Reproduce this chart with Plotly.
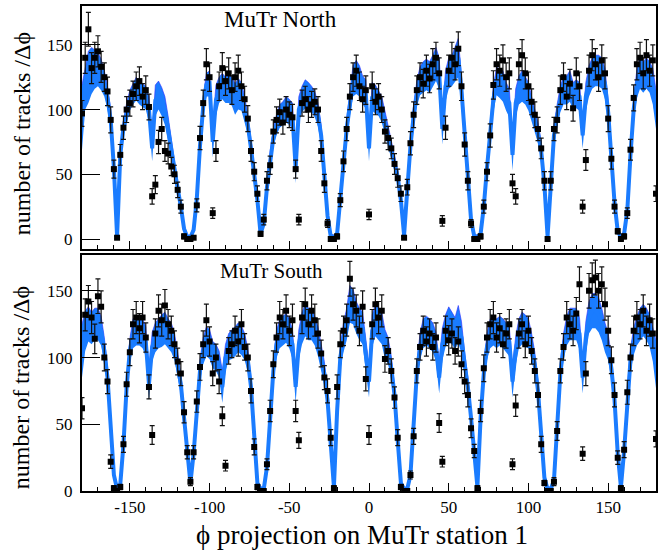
import plotly.graph_objects as go
from plotly.subplots import make_subplots

# --- data (phi bins of 2 degrees) ---
PHI = list(range(-180, 181, 2))

X_TICKS = [-150, -100, -50, 0, 50, 100, 150]
X_TICK_LABELS = ["-150", "-100", "-50", "0", "50", "100", "150"]
Y_TICKS = [0, 50, 100, 150]

# MuTr North: data points
NORTH_Y = [
    97, 140, 162, 132, 140, 145, 133, 125, 114, 92,
    54, 1, 65, 86, 100, 105, 112, 118, 122, 110,
    115, 102, 33, 42, 75, 85, 68, 66, 56, 50,
    38, 25, 2, 0, 0, 1, 26, 78, 105, 135,
    125, 20, 68, 118, 132, 122, 128, 115, 125, 130,
    118, 108, 93, 68, 52, 35, 4, 15, 45, 57,
    83, 92, 98, 90, 100, 96, 94, 54, 15, 105,
    108, 100, 104, 106, 100, 68, 43, 12, 0, 0,
    2, 30, 60, 85, 110, 125, 130, 118, 108, 115,
    19, 118, 106, 110, 100, 83, 78, 70, 58, 47,
    35, 1, 40, 74, 96, 115, 125, 120, 130, 124,
    135, 140, 128, 14, 86, 130, 140, 135, 147, 118,
    73, 45, 12, 0, 0, 2, 25, 52, 80, 119,
    135, 130, 138, 125, 128, 43, 33, 135, 142, 128,
    118, 106, 96, 85, 70, 45, 0, 45, 85, 92,
    115, 125, 110, 120, 101, 128, 118, 25, 61, 130,
    142, 135, 125, 138, 128, 93, 62, 25, 6, 0,
    2, 20, 69, 109, 135, 140, 128, 142, 130, 138,
    35,
]
NORTH_ERR = [
    10, 12, 13, 12, 12, 12, 12, 11, 11, 10,
    7, 1, 8, 9, 10, 10, 10, 11, 11, 10,
    11, 10, 6, 7, 9, 9, 8, 8, 7, 7,
    6, 5, 2, 1, 1, 1, 5, 9, 10, 12,
    11, 4, 8, 11, 12, 11, 12, 11, 11, 12,
    11, 10, 10, 8, 7, 6, 2, 4, 7, 7,
    9, 10, 10, 9, 10, 10, 10, 7, 4, 10,
    10, 10, 10, 10, 10, 8, 7, 3, 1, 1,
    2, 5, 8, 9, 10, 11, 12, 11, 10, 11,
    4, 11, 10, 10, 10, 9, 9, 8, 8, 7,
    6, 1, 6, 9, 10, 11, 11, 11, 12, 11,
    12, 12, 12, 4, 9, 12, 12, 12, 13, 11,
    9, 7, 3, 1, 1, 2, 5, 7, 9, 11,
    12, 12, 12, 11, 12, 7, 6, 12, 12, 12,
    11, 10, 10, 9, 8, 7, 1, 7, 9, 10,
    11, 11, 10, 11, 10, 12, 11, 5, 8, 12,
    12, 12, 11, 12, 12, 10, 8, 5, 2, 1,
    2, 4, 8, 10, 12, 12, 12, 12, 12, 12,
    6,
]
# MuTr North: simulation band (centre and half width)
NORTH_SIM = [
    94, 116, 125, 130, 131, 131, 127, 120, 109, 92,
    55, 2, 65, 86, 97, 107, 112, 116, 113, 111,
    109, 100, 70, 107, 111, 106, 99, 85, 68, 54,
    39, 25, 8, 1.5, 1.5, 7, 31, 72, 102, 119,
    120, 75, 107, 115, 118, 115, 116, 114, 108, 112,
    110, 100, 88, 70, 52, 30, 4, 12, 40, 62,
    78, 88, 95, 97, 100, 98, 95, 55, 100, 108,
    112, 110, 108, 104, 96, 80, 50, 18, 2, 1.5,
    4, 28, 58, 85, 105, 122, 125, 122, 115, 112,
    70, 110, 108, 105, 100, 90, 80, 70, 60, 48,
    30, 3, 38, 72, 95, 112, 122, 125, 127, 125,
    130, 135, 128, 85, 118, 128, 130, 135, 140, 115,
    80, 48, 15, 2, 1.5, 4, 25, 55, 82, 108,
    122, 120, 118, 110, 105, 65, 105, 115, 118, 115,
    110, 100, 92, 82, 68, 42, 2, 40, 80, 95,
    108, 115, 115, 118, 110, 112, 110, 80, 110, 122,
    128, 130, 130, 128, 120, 98, 65, 28, 6, 1.5,
    4, 22, 65, 100, 120, 128, 125, 128, 125, 118,
    100,
]
NORTH_BAND = [
    25, 16, 20, 18, 15, 13, 12, 10, 9, 8,
    5, 2, 5, 6, 8, 8, 8, 9, 9, 9,
    9, 10, 10, 12, 11, 11, 11, 10, 8, 6,
    5, 4, 3, 1.5, 1.5, 3, 5, 7, 8, 9,
    10, 12, 12, 10, 10, 10, 11, 11, 12, 12,
    11, 10, 8, 7, 6, 5, 2, 3, 5, 6,
    7, 8, 9, 9, 10, 10, 10, 12, 10, 10,
    11, 11, 10, 10, 9, 8, 6, 4, 2, 1.5,
    2, 4, 6, 8, 10, 12, 13, 12, 11, 11,
    10, 11, 11, 10, 10, 9, 8, 7, 6, 5,
    4, 2, 4, 7, 9, 10, 11, 12, 12, 12,
    12, 13, 12, 12, 12, 12, 12, 13, 15, 11,
    8, 6, 3, 2, 1.5, 2, 4, 6, 8, 10,
    11, 11, 12, 11, 11, 12, 11, 11, 12, 11,
    11, 10, 9, 8, 7, 5, 2, 5, 8, 9,
    10, 11, 11, 12, 11, 11, 11, 10, 11, 12,
    12, 12, 12, 12, 12, 9, 7, 4, 2, 1.5,
    2, 4, 7, 9, 11, 12, 12, 12, 12, 14,
    15,
]

# MuTr South: data points
SOUTH_Y = [
    62, 132, 142, 130, 114, 146, 138, 100, 82, 22,
    2, 0, 3, 35, 80, 104, 125, 130, 122, 130,
    115, 78, 42, 118, 135, 128, 139, 125, 120, 110,
    97, 88, 59, 29, 7, 29, 67, 93, 110, 128,
    112, 88, 100, 82, 56, 19, 105, 110, 120, 112,
    125, 108, 100, 75, 33, 3, 0, 0, 20, 60,
    95, 115, 130, 125, 135, 120, 128, 60, 38, 130,
    140, 125, 135, 128, 118, 103, 85, 75, 40, 2,
    78, 110, 120, 128, 159, 140, 135, 120, 138, 84,
    42, 125, 140, 130, 135, 99, 105, 90, 70, 40,
    3, 0, 0, 12, 41, 90, 108, 120, 112, 118,
    108, 115, 51, 22, 120, 113, 118, 105, 112, 95,
    82, 72, 47, 30, 2, 60, 92, 115, 125, 130,
    115, 122, 110, 118, 125, 20, 64, 118, 125, 110,
    120, 105, 90, 72, 35, 6, 0, 0, 7, 45,
    90, 108, 130, 125, 120, 133, 155, 28, 88, 150,
    158, 160, 150, 155, 140, 120, 98, 72, 25, 2,
    31, 74, 100, 120, 130, 125, 135, 120, 128, 118,
    39,
]
SOUTH_ERR = [
    8, 12, 12, 12, 11, 13, 12, 10, 9, 5,
    2, 1, 2, 6, 9, 10, 11, 12, 11, 12,
    11, 9, 7, 11, 12, 12, 12, 11, 11, 10,
    10, 9, 8, 5, 3, 5, 8, 10, 10, 12,
    11, 9, 10, 9, 7, 4, 10, 10, 11, 11,
    11, 10, 10, 9, 6, 2, 1, 1, 4, 8,
    10, 11, 12, 11, 12, 11, 12, 8, 6, 12,
    12, 11, 12, 12, 11, 10, 9, 9, 6, 2,
    9, 10, 11, 12, 13, 12, 12, 11, 12, 9,
    7, 11, 12, 12, 12, 10, 10, 9, 8, 6,
    2, 1, 1, 3, 6, 9, 10, 11, 11, 11,
    10, 11, 7, 4, 11, 11, 11, 10, 11, 10,
    9, 9, 7, 5, 2, 8, 10, 11, 11, 12,
    11, 11, 10, 11, 11, 4, 8, 11, 11, 10,
    11, 10, 9, 9, 6, 2, 1, 1, 3, 7,
    9, 10, 12, 11, 11, 12, 13, 5, 9, 13,
    13, 13, 13, 13, 12, 11, 10, 9, 5, 2,
    6, 9, 10, 11, 12, 11, 12, 11, 12, 11,
    6,
]
# MuTr South: simulation band (centre and half width)
SOUTH_SIM = [
    105, 120, 125, 122, 125, 125, 120, 105, 85, 45,
    12, 1.5, 5, 35, 78, 105, 118, 120, 120, 118,
    112, 80, 108, 115, 118, 120, 122, 118, 115, 108,
    95, 80, 55, 28, 6, 28, 62, 90, 105, 112,
    110, 102, 100, 95, 78, 100, 108, 110, 112, 115,
    113, 108, 98, 78, 38, 6, 1.5, 1.5, 18, 58,
    90, 110, 118, 120, 122, 118, 110, 78, 110, 122,
    128, 125, 125, 120, 112, 100, 88, 68, 35, 3,
    60, 100, 115, 125, 140, 138, 130, 125, 122, 100,
    82, 120, 128, 125, 122, 110, 105, 92, 72, 38,
    6, 1.5, 1.5, 12, 45, 88, 108, 118, 120, 118,
    115, 108, 85, 110, 120, 125, 122, 118, 125, 115,
    95, 78, 55, 32, 3, 55, 88, 108, 118, 120,
    118, 120, 118, 115, 112, 82, 105, 118, 122, 120,
    118, 108, 95, 75, 42, 10, 1.5, 1.5, 8, 45,
    88, 108, 120, 125, 125, 125, 118, 85, 115, 130,
    135, 135, 132, 125, 115, 108, 92, 68, 28, 3,
    30, 70, 98, 112, 120, 125, 128, 125, 120, 110,
    95,
]
SOUTH_BAND = [
    20, 15, 13, 12, 12, 12, 11, 10, 8, 5,
    3, 1.5, 2, 4, 7, 9, 11, 11, 11, 11,
    11, 12, 11, 11, 11, 12, 12, 11, 11, 10,
    9, 8, 6, 4, 2, 4, 6, 8, 10, 11,
    11, 10, 10, 10, 12, 10, 10, 11, 11, 11,
    11, 10, 9, 7, 5, 2, 1.5, 1.5, 3, 6,
    8, 10, 11, 11, 11, 11, 11, 12, 11, 12,
    12, 12, 12, 11, 11, 10, 9, 7, 5, 2,
    6, 9, 11, 12, 14, 13, 12, 12, 12, 12,
    12, 12, 12, 12, 12, 11, 10, 9, 7, 5,
    2, 1.5, 1.5, 3, 5, 8, 10, 11, 11, 11,
    11, 11, 12, 12, 12, 13, 12, 12, 14, 12,
    9, 7, 6, 4, 2, 6, 8, 10, 11, 11,
    11, 11, 11, 11, 11, 12, 11, 11, 12, 12,
    11, 10, 9, 7, 5, 3, 1.5, 1.5, 2, 5,
    8, 10, 11, 12, 12, 12, 12, 12, 12, 12,
    13, 13, 13, 12, 11, 10, 9, 7, 4, 2,
    4, 7, 9, 10, 11, 12, 12, 12, 12, 13,
    18,
]

for arr in (NORTH_Y, NORTH_ERR, NORTH_SIM, NORTH_BAND,
            SOUTH_Y, SOUTH_ERR, SOUTH_SIM, SOUTH_BAND):
    assert len(arr) == len(PHI), len(arr)

# --- style ---
FONT = "Liberation Serif, Times New Roman, serif"
LIGHT_BLUE = "#1a7cff"
DARK_BLUE = "#2a2aff"


def add_panel(fig, row, y, err, sim, band):
    lo = [s - b for s, b in zip(sim, band)]
    hi = [s + b for s, b in zip(sim, band)]
    # simulation band
    fig.add_trace(go.Scatter(x=PHI, y=lo, mode="lines", line=dict(width=0),
                             showlegend=False, hoverinfo="skip"), row=row, col=1)
    fig.add_trace(go.Scatter(x=PHI, y=hi, mode="lines", fill="tonexty",
                             fillcolor=LIGHT_BLUE, line=dict(color=DARK_BLUE, width=0.6),
                             showlegend=False, hoverinfo="skip"), row=row, col=1)
    fig.add_trace(go.Scatter(x=PHI, y=sim, mode="lines",
                             line=dict(color=LIGHT_BLUE, width=4),
                             showlegend=False, hoverinfo="skip"), row=row, col=1)
    # data with error bars
    fig.add_trace(go.Scatter(x=PHI, y=y, mode="markers",
                             marker=dict(symbol="square", size=6, color="black"),
                             error_y=dict(type="data", array=err, color="#111111",
                                          thickness=1.2, width=2.5),
                             showlegend=False), row=row, col=1)


fig = make_subplots(rows=2, cols=1, shared_xaxes=True, vertical_spacing=0.012)
add_panel(fig, 1, NORTH_Y, NORTH_ERR, NORTH_SIM, NORTH_BAND)
add_panel(fig, 2, SOUTH_Y, SOUTH_ERR, SOUTH_SIM, SOUTH_BAND)

axis_common = dict(showline=True, linecolor="black", linewidth=2, mirror=True,
                   showgrid=False, zeroline=False, ticks="inside", tickcolor="black",
                   tickfont=dict(family=FONT, size=17, color="black"))

fig.update_xaxes(range=[-180, 180], tickvals=X_TICKS, ticktext=X_TICK_LABELS,
                 ticklen=8, tickwidth=1,
                 minor=dict(ticks="inside", ticklen=4, tick0=0, dtick=10,
                            tickcolor="black", showgrid=False),
                 **axis_common)
fig.update_xaxes(showticklabels=False, row=1, col=1)
fig.update_yaxes(tickvals=Y_TICKS, ticklen=18, tickwidth=1, ticklabelstandoff=4,
                 **axis_common)
fig.update_yaxes(range=[-7.7, 180], domain=[0.499, 1.0], row=1, col=1)
fig.update_yaxes(range=[0, 177], domain=[0.0, 0.487], row=2, col=1)

title_font = dict(family=FONT, size=24, color="black")
fig.update_layout(
    width=671, height=555,
    margin=dict(l=82, r=15, t=4, b=64),
    paper_bgcolor="white", plot_bgcolor="white",
    showlegend=False,
    annotations=[
        dict(text="number of tracks /Δϕ", xref="paper", yref="paper",
             x=-0.105, y=0.737, textangle=-90, showarrow=False,
             xanchor="center", yanchor="middle", font=title_font),
        dict(text="number of tracks /Δϕ", xref="paper", yref="paper",
             x=-0.105, y=0.2135, textangle=-90, showarrow=False,
             xanchor="center", yanchor="middle", font=title_font),
        dict(text="ϕ projection on MuTr station 1", xref="paper", yref="paper",
             x=0.488, y=-0.09, showarrow=False, xanchor="center", yanchor="middle",
             font=dict(family=FONT, size=27, color="black")),
        dict(text="MuTr North", xref="paper", yref="paper", x=0.244, y=0.973,
             showarrow=False, xanchor="left", yanchor="middle",
             font=dict(family=FONT, size=23, color="black")),
        dict(text="MuTr South", xref="paper", yref="paper", x=0.237, y=0.454,
             showarrow=False, xanchor="left", yanchor="middle",
             font=dict(family=FONT, size=21, color="black")),
    ],
)

# the page body has a default 8px margin; drop it so the figure sits at the corner
fig.write_html("out.html", config={"displayModeBar": False},
               post_script="document.body.style.margin='0px';")
